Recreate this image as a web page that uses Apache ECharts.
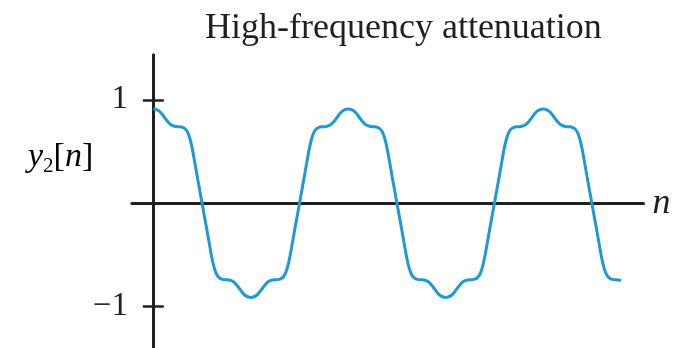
<!DOCTYPE html>
<html>
<head>
<meta charset="utf-8">
<script src="https://cdn.jsdelivr.net/npm/echarts@6/dist/echarts.min.js"></script>
<style>
  html, body { margin: 0; padding: 0; background: #ffffff; }
  #chart { width: 679px; height: 348px; }
</style>
</head>
<body>
<div id="chart"></div>
<script>
// Filtered square wave y2[n], sampled every dn along n
const titleText = 'High-frequency attenuation';
const dn = 0.25;
const y2 = [
  0.911, 0.907, 0.896, 0.877, 0.848, 0.815, 0.786, 0.762, 0.749, 0.742,
  0.740, 0.739, 0.734, 0.720, 0.689, 0.626, 0.525, 0.395, 0.260, 0.130,
  0, -0.130, -0.260, -0.395, -0.525, -0.626, -0.689, -0.720, -0.734, -0.739,
  -0.740, -0.742, -0.749, -0.762, -0.786, -0.815, -0.848, -0.877, -0.896, -0.907,
  -0.911, -0.907, -0.896, -0.877, -0.848, -0.815, -0.786, -0.762, -0.749, -0.742,
  -0.740, -0.739, -0.734, -0.720, -0.689, -0.626, -0.525, -0.395, -0.260, -0.130,
  0, 0.130, 0.260, 0.395, 0.525, 0.626, 0.689, 0.720, 0.734, 0.739,
  0.740, 0.742, 0.749, 0.762, 0.786, 0.815, 0.848, 0.877, 0.896, 0.907,
  0.911, 0.907, 0.896, 0.877, 0.848, 0.815, 0.786, 0.762, 0.749, 0.742,
  0.740, 0.739, 0.734, 0.720, 0.689, 0.626, 0.525, 0.395, 0.260, 0.130,
  0, -0.130, -0.260, -0.395, -0.525, -0.626, -0.689, -0.720, -0.734, -0.739,
  -0.740, -0.742, -0.749, -0.762, -0.786, -0.815, -0.848, -0.877, -0.896, -0.907,
  -0.911, -0.907, -0.896, -0.877, -0.848, -0.815, -0.786, -0.762, -0.749, -0.742,
  -0.740, -0.739, -0.734, -0.720, -0.689, -0.626, -0.525, -0.395, -0.260, -0.130,
  0, 0.130, 0.260, 0.395, 0.525, 0.626, 0.689, 0.720, 0.734, 0.739,
  0.740, 0.742, 0.749, 0.762, 0.786, 0.815, 0.848, 0.877, 0.896, 0.907,
  0.911, 0.907, 0.896, 0.877, 0.848, 0.815, 0.786, 0.762, 0.749, 0.742,
  0.740, 0.739, 0.734, 0.720, 0.689, 0.626, 0.525, 0.395, 0.260, 0.130,
  0, -0.130, -0.260, -0.395, -0.525, -0.626, -0.689, -0.720, -0.734, -0.739,
  -0.740, -0.742, -0.749
];
const yTickValues = [-1, 1];
const yTickLabels = { '-1': '\u22121', '1': '1' };

const ink = '#231f20';
const curveBlue = '#1b9ad6';
const serif = '"Liberation Serif", "DejaVu Serif", serif';

const points = y2.map((v, i) => [i * dn, v]);

const chart = echarts.init(document.getElementById('chart'), null, { renderer: 'canvas' });

const nRange = { type: 'value', min: -2.2, max: 50.3 };
const yRange = { type: 'value', min: -1.4, max: 1.433, position: 'left', splitLine: { show: false } };
const tickStyle = { color: ink, width: 2.5 };

chart.setOption({
  backgroundColor: '#ffffff',
  animation: false,
  title: {
    text: titleText,
    left: 205,
    top: 11,
    padding: 0,
    textStyle: { fontFamily: serif, fontSize: 36, fontWeight: 'normal', color: ink }
  },
  grid: { left: 131.9, right: 35.5, top: 55, bottom: 0, containLabel: false },
  xAxis: [
    Object.assign({}, nRange, {
      name: 'n',
      nameLocation: 'end',
      nameGap: 9,
      nameTextStyle: {
        fontFamily: serif, fontStyle: 'italic', fontSize: 36, color: ink,
        verticalAlign: 'middle', padding: [0, 0, 8, 0]
      },
      axisLine: { show: true, onZero: true, lineStyle: { color: ink, width: 3 } },
      axisTick: { show: false },
      axisLabel: { show: false },
      splitLine: { show: false }
    }),
    // companion n-axis (hidden) so the second y-axis can also sit on n = 0
    Object.assign({}, nRange, {
      show: false,
      axisLine: { show: false, onZero: false },
      splitLine: { show: false }
    })
  ],
  yAxis: [
    Object.assign({}, yRange, {
      axisLine: { show: true, onZero: true, onZeroAxisIndex: 0, lineStyle: { color: ink, width: 3 } },
      axisTick: { show: true, inside: false, length: 10.5, customValues: yTickValues, lineStyle: tickStyle },
      axisLabel: {
        show: true,
        customValues: yTickValues,
        margin: 4,
        padding: [5, 0, 0, 0],
        fontFamily: serif,
        fontSize: 33,
        color: ink,
        formatter: v => yTickLabels[String(v)]
      }
    }),
    // second y-axis supplies the right half of each crossing tick
    Object.assign({}, yRange, {
      axisLine: { show: true, onZero: true, onZeroAxisIndex: 1, lineStyle: { color: ink, width: 3 } },
      axisTick: { show: true, inside: true, length: 10.5, customValues: yTickValues, lineStyle: tickStyle },
      axisLabel: { show: false }
    })
  ],
  graphic: [
    {
      type: 'text',
      left: 28,
      top: 140,
      style: {
        text: '{it|y}{sub|2}{rm|[}{it|n}{rm|]}',
        rich: {
          it: { fontFamily: serif, fontStyle: 'italic', fontSize: 34, color: ink, lineHeight: 40, verticalAlign: 'middle' },
          rm: { fontFamily: serif, fontSize: 34, color: ink, lineHeight: 40, verticalAlign: 'middle' },
          sub: { fontFamily: serif, fontSize: 21, color: ink, lineHeight: 22, verticalAlign: 'bottom' }
        }
      }
    }
  ],
  series: [
    {
      type: 'line',
      xAxisIndex: 0,
      yAxisIndex: 0,
      data: points,
      showSymbol: false,
      smooth: 0.3,
      lineStyle: { color: curveBlue, width: 3 },
      z: 3
    }
  ]
});
</script>
</body>
</html>
